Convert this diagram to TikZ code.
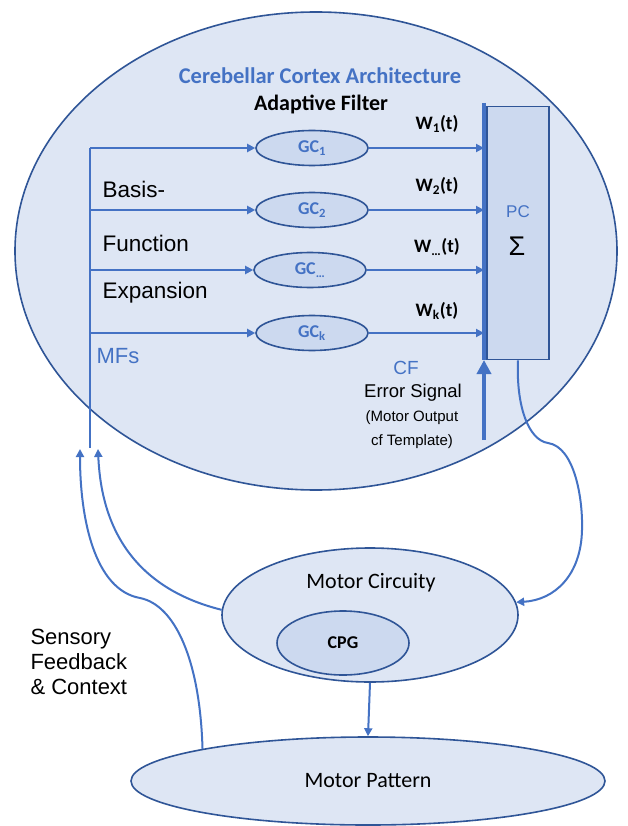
\documentclass[tikz,border=0pt]{standalone}
\usepackage{fontspec}
\setmainfont{Liberation Sans}
\newfontfamily\calib{Carlito}
\usetikzlibrary{shapes.geometric,arrows.meta}
\definecolor{fillA}{RGB}{222,230,244}
\definecolor{fillB}{RGB}{204,217,239}
\definecolor{edgeC}{RGB}{47,85,151}
\definecolor{arrC}{RGB}{68,114,196}
\tikzset{
  oval/.style={ellipse,draw=edgeC,line width=1.6pt,fill=fillA,inner sep=0pt},
  gcoval/.style={ellipse,draw=edgeC,line width=1.6pt,fill=fillB,inner sep=0pt,minimum width=112pt,minimum height=35pt,font=\calib\bfseries\fontsize{18}{20}\selectfont,text=arrC},
  arr/.style={draw=arrC,line width=2pt,-{Triangle[length=8pt,width=8pt]}},
  wlab/.style={font=\calib\bfseries\fontsize{19}{21}\selectfont},
  lefttxt/.style={anchor=west,font=\fontsize{22.5}{24}\selectfont},
}
\begin{document}
\begin{tikzpicture}[x=1pt,y=-1pt]
\useasboundingbox (0,0) rectangle (628,826);
\fill[white] (0,0) rectangle (628,826);
% big ellipse
\node[oval,minimum width=602pt,minimum height=478pt] (cortex) at (316,251) {};
\node[font=\calib\bfseries\fontsize{22.5}{24}\selectfont,text=arrC] (title) at (320,76) {Cerebellar Cortex Architecture};
\node[font=\calib\bfseries\fontsize{22}{24}\selectfont] (af) at (321,104) {Adaptive Filter};
% PC box
\node[draw=edgeC,line width=1.6pt,fill=fillB,minimum width=62pt,minimum height=253pt,inner sep=0pt] (pc) at (518,233) {};
\node[text=arrC,font=\fontsize{17}{19}\selectfont] (pclab) at (518,212) {PC};
\node[font=\fontsize{27}{29}\selectfont] (sigma) at (517,246) {Σ};
\coordinate (bartop) at (484,103);
\coordinate (barbot) at (484,360);
\draw[arrC,line width=3.5pt] (bartop) -- (barbot);
% GCs
\node[gcoval] (gc1) at (312,148) {GC\textsubscript{1}};
\node[gcoval] (gc2) at (312,210) {GC\textsubscript{2}};
\node[gcoval] (gc3) at (310,270) {GC\textsubscript{\ldots}};
\node[gcoval] (gc4) at (312,333) {GC\textsubscript{k}};
% MF line
\coordinate (mftop) at (90,148);
\coordinate (mfbot) at (90,448);
\draw[arrC,line width=2pt] (mftop) -- (mfbot);
\foreach \g in {gc1,gc2,gc3,gc4}{
  \draw[arr] (\g.west -| mftop) -- (\g.west);
  \draw[arr] (\g.east) -- (\g.east -| bartop);
}
\node[wlab] (w1) at (437,124) {W\textsubscript{1}(t)};
\node[wlab] (w2) at (437,186) {W\textsubscript{2}(t)};
\node[wlab] (w3) at (437,247) {W\textsubscript{\ldots}(t)};
\node[wlab] (w4) at (437,311) {W\textsubscript{k}(t)};
\node[lefttxt] (basis) at (99,189) {Basis-};
\node[lefttxt] (func) at (99,243) {Function};
\node[lefttxt] (expa) at (99,293) {Expansion};
\node[text=arrC,font=\fontsize{22}{24}\selectfont] (mfs) at (118,356) {MFs};
% CF
\coordinate (cfstart) at (484,440);
\draw[arrC,line width=3.5pt,-{Triangle[length=14pt,width=14pt]}] (cfstart) -- (barbot);
\node[text=arrC,font=\fontsize{19}{21}\selectfont] (cf) at (406,368) {CF};
\node[font=\fontsize{18.5}{20}\selectfont] (err) at (413,393) {Error Signal};
\node[font=\fontsize{15}{17}\selectfont] (mo) at (412,418) {(Motor Output};
\node[font=\fontsize{15}{17}\selectfont] (tpl) at (412,442) {cf Template)};
% lower ellipses
\node[oval,minimum width=296pt,minimum height=134pt] (mc) at (370,615) {};
\node[font=\calib\fontsize{22}{24}\selectfont] (mclab) at (371,583) {Motor Circuity};
\node[oval,fill=fillB,minimum width=132pt,minimum height=64pt,font=\calib\bfseries\fontsize{18}{20}\selectfont] (cpg) at (343,643) {CPG};
\node[oval,minimum width=474pt,minimum height=88pt,font=\calib\fontsize{22}{24}\selectfont] (mp) at (368,781) {Motor Pattern};
\draw[arr] (mc.south) -- (mp.north);
% PC to motor circuity
\draw[arr] (pc.south) .. controls (516,405) and (528,440) .. (548,443) .. controls (575,447) and (583,500) .. (582,530) .. controls (581,575) and (555,600) .. (mc.5);
% MFs feedback arrows
\coordinate (mfin1) at (98,449);
\coordinate (mfin2) at (80,449);
\draw[arr] (mc.178) .. controls (150,592) and (102,545) .. (mfin1);
\draw[arr] (mp.169) .. controls (200,660) and (175,605) .. (140,598) .. controls (95,590) and (80,520) .. (mfin2);
\node[anchor=west,font=\fontsize{22}{24}\selectfont,align=left] (sens) at (27,662) {Sensory\\[1pt]Feedback\\[1pt]\& Context};
\end{tikzpicture}
\end{document}
